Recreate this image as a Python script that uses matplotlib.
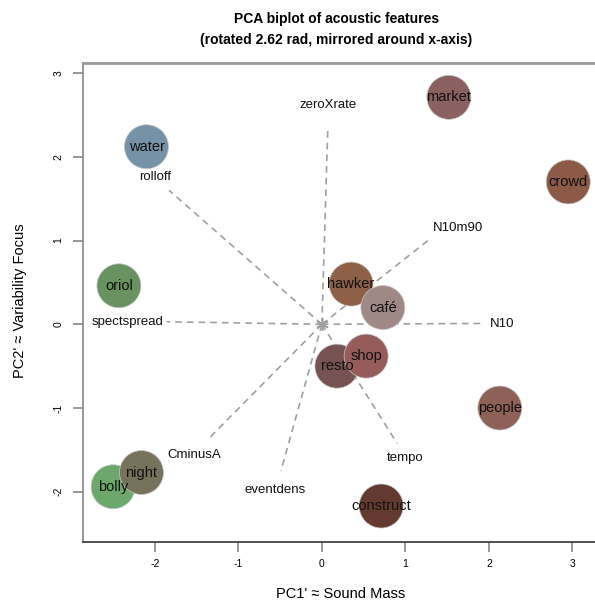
import matplotlib
matplotlib.use("Agg")
import matplotlib.pyplot as plt

plt.rcParams["font.family"] = ["Liberation Sans", "DejaVu Sans"]
plt.rcParams["axes.unicode_minus"] = False

# site scores (rotated PCA)
sites = ["water", "oriol", "market", "crowd", "hawker", "café", "resto", "shop",
         "people", "construct", "bolly", "night"]
pc1 = [-2.10, -2.43, 1.52, 2.95, 0.35, 0.73, 0.18, 0.53, 2.13, 0.71, -2.50, -2.16]
pc2 = [2.12, 0.46, 2.71, 1.70, 0.48, 0.20, -0.50, -0.38, -1.00, -2.17, -1.94, -1.77]
site_colors = ["#7692a6", "#689260", "#8a6060", "#8c5a46", "#8e6048", "#a08886",
               "#765252", "#965c5c", "#8e6058", "#643a30", "#6ca86c", "#76725c"]

# feature loadings (arrow tips) and label positions
features = ["zeroXrate", "rolloff", "N10m90", "spectspread", "N10",
            "CminusA", "eventdens", "tempo"]
load_x = [0.07, -1.83, 1.27, -1.86, 1.93, -1.37, -0.49, 0.90]
load_y = [2.31, 1.60, 1.00, 0.03, 0.01, -1.38, -1.75, -1.42]
lab_x = [0.07, -2.00, 1.63, -2.33, 2.16, -1.53, -0.56, 1.00]
lab_y = [2.62, 1.76, 1.15, 0.03, 0.00, -1.56, -1.98, -1.60]

fig = plt.figure(figsize=(5.95, 6.04), dpi=100)
ax = fig.add_axes([0.1395, 0.1026, 0.8605, 0.7931])

for fx, fy in zip(load_x, load_y):
    ax.plot([0, fx], [0, fy], color="#a0a0a0", lw=1.2, ls=(0, (4, 3)), zorder=1)
ax.plot([0], [0], marker=(6, 2, 0), ms=9, color="#a0a0a0", mew=1.2, zorder=1)

ax.scatter(pc1, pc2, s=1003, c=site_colors, edgecolors="#c8c8c8",
           linewidths=0.5, zorder=2)
for name, x, y in zip(sites, pc1, pc2):
    ax.text(x, y, name, ha="center", va="center", fontsize=10.5, color="#111111", zorder=3)

for name, x, y in zip(features, lab_x, lab_y):
    ax.text(x, y, name, ha="center", va="center", fontsize=9.5, color="#111111", zorder=3)

ax.set_xlim(-2.86, 3.27)
ax.set_ylim(-2.60, 3.12)
ax.set_xticks([-2, -1, 0, 1, 2, 3])
ax.set_yticks([-2, -1, 0, 1, 2, 3])
ax.set_yticklabels(["-2", "-1", "0", "1", "2", "3"], rotation=90, va="center")
ax.tick_params(axis="both", direction="out", length=7, width=1.2, color="#888888",
               labelsize=7.5)
ax.tick_params(axis="x", pad=5)
ax.tick_params(axis="y", pad=7)

ax.spines["right"].set_visible(False)
ax.spines["top"].set_color("#999999")
ax.spines["top"].set_linewidth(2)
ax.spines["left"].set_color("#888888")
ax.spines["left"].set_linewidth(1.2)
ax.spines["bottom"].set_color("#333333")
ax.spines["bottom"].set_linewidth(1.2)

fig.text(0.565, 0.968, "PCA biplot of acoustic features", ha="center", va="center",
         fontsize=10, fontweight="bold")
fig.text(0.565, 0.933, "(rotated 2.62 rad, mirrored around x-axis)", ha="center",
         va="center", fontsize=10, fontweight="bold")
fig.text(0.573, 0.016, "PC1' \u2248 Sound Mass", ha="center", va="center", fontsize=10.5)
fig.text(0.034, 0.503, "PC2' \u2248 Variability Focus", ha="center", va="center",
         fontsize=10.5, rotation=90)

fig.savefig("out.png", dpi=100)
